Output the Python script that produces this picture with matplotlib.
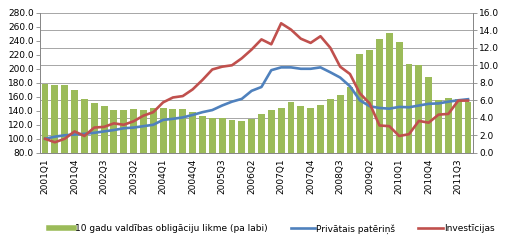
import matplotlib
matplotlib.use("Agg")
import matplotlib.pyplot as plt
from matplotlib.lines import Line2D
import numpy as np

# ── Data ──────────────────────────────────────────────────────────────────────
quarters = [f"{y}Q{q}" for y in range(2001, 2012) for q in range(1, 5)]

# 10-year government bond yield, % (right axis)
bond_yield = [7.9, 7.75, 7.75, 7.2, 6.15, 5.7, 5.35, 4.9, 4.9, 5.05, 4.9, 5.1,
              5.1, 5.0, 5.0, 4.65, 4.2, 3.95, 3.95, 3.75, 3.6, 3.85, 4.4, 4.9,
              5.1, 5.8, 5.35, 5.1, 5.45, 6.1, 6.6, 7.55, 11.25, 11.75, 12.95, 13.7,
              12.65, 10.1, 10.0, 8.65, 6.05, 6.25, 6.15, 5.75]

# Private consumption index (left axis)
consumption = [100, 103, 105, 106, 107, 108.5, 110.5, 112.5, 115, 116, 118, 120,
               127, 128.5, 130.5, 134, 138, 141, 147.5, 153, 157, 168.5, 174, 198,
               202, 202, 200, 200, 202, 195, 187.5, 175, 155, 146.5, 144, 143,
               145.5, 145, 147.5, 150, 150.5, 153, 155, 156.5]

# Investment index (left axis)
investment = [100, 95, 100, 110.5, 104, 116, 117, 122, 120, 125, 133, 138,
              152, 159, 161, 170.5, 184, 199, 203, 205, 215, 227.5, 242, 235,
              265, 256, 243, 237, 246.5, 230, 203, 192.5, 165, 150.5, 119, 118,
              104, 106.5, 125.5, 123, 134.5, 135.5, 154.5, 154.5]

GREEN = "#9BBB59"
BLUE = "#4F81BD"
RED = "#C0504D"
FS = 6.5

fig = plt.figure(figsize=(5.08, 2.46), dpi=100)
ax = fig.add_axes([0.079, 0.379, 0.852, 0.569])
ax2 = ax.twinx()

x = np.arange(len(quarters))

# bars on the right axis, lines on the left; bars stay behind
ax2.bar(x, bond_yield, width=0.7, color=GREEN, zorder=1,
        label="10 gadu valdības obligāciju likme (pa labi)")
ax.set_zorder(ax2.get_zorder() + 1)
ax.patch.set_visible(False)
ax.plot(x, consumption, color=BLUE, lw=1.9, label="Privātais patēriņš",
        solid_joinstyle="round", zorder=3)
ax.plot(x, investment, color=RED, lw=1.9, label="Investīcijas",
        solid_joinstyle="round", zorder=3)

ax.set_xlim(-0.5, len(quarters) - 0.5)
ax.set_ylim(80, 280)
ax.set_yticks(np.arange(80, 281, 20))
ax.set_yticklabels([f"{v:.1f}" for v in np.arange(80, 281, 20)], fontsize=FS)
ax2.set_ylim(0, 16)
ax2.set_yticks(np.arange(0, 17, 2))
ax2.set_yticklabels([f"{v:.1f}" for v in np.arange(0, 17, 2)], fontsize=FS)

# gridlines on the bar axis so they sit behind everything
for v in np.arange(0, 17, 2):
    ax2.axhline(v, color="#A6A6A6", lw=0.7, zorder=0)

ax.set_xticks(x[::3])
ax.set_xticklabels(quarters[::3], rotation=90, fontsize=FS)
ax.tick_params(axis="x", length=0, pad=4)
ax.tick_params(axis="y", length=3, width=0.6, color="#888888", pad=1.5)
ax2.tick_params(axis="y", length=3, width=0.6, color="#888888", pad=1.5)

for a in (ax, ax2):
    a.spines["top"].set_visible(False)
    for s in ("left", "right", "bottom"):
        a.spines[s].set_color("#888888")
        a.spines[s].set_linewidth(0.7)

_, l1 = ax2.get_legend_handles_labels()
h2, l2 = ax.get_legend_handles_labels()
h1 = [Line2D([0], [0], color=GREEN, lw=4)]
fig.legend(h1 + h2, l1 + l2, loc="center", bbox_to_anchor=(0.535, 0.07),
           ncol=3, frameon=False, fontsize=FS, handlelength=2.7,
           handletextpad=0.1, columnspacing=2.6)

fig.savefig("out.png", dpi=100)
